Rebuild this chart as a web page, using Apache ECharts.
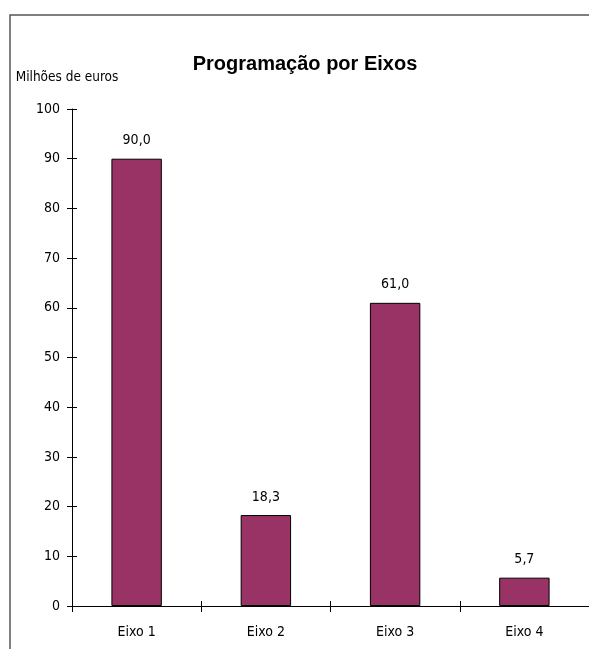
<!DOCTYPE html>
<html>
<head>
<meta charset="utf-8">
<script src="https://cdn.jsdelivr.net/npm/echarts@6/dist/echarts.min.js"></script>
<style>
  html, body { margin: 0; padding: 0; background: #fff; }
  #chart { width: 589px; height: 649px; }
</style>
</head>
<body>
<div id="chart"></div>
<script>
  var categories = ['Eixo 1', 'Eixo 2', 'Eixo 3', 'Eixo 4']
  var values = [90.0, 18.3, 61.0, 5.7]
  var yTicks = [0, 10, 20, 30, 40, 50, 60, 70, 80, 90, 100]

  var font = '"DejaVu Sans Condensed", "Liberation Sans", sans-serif'
  var titleFont = '"Liberation Sans", Arial, sans-serif'
  var chart = echarts.init(document.getElementById('chart'))

  var option = {
    animation: false,
    title: {
      text: 'Programação por Eixos',
      left: 300,
      top: 49,
      textAlign: 'center',
      textStyle: { fontFamily: titleFont, fontSize: 20, fontWeight: 'bold', color: '#000' }
    },
    graphic: [{
      type: 'polyline',
      shape: { points: [[10, 649], [10, 15], [589, 15]] },
      style: { stroke: '#555', lineWidth: 1.5, fill: null }
    }],
    grid: { left: 72, right: -1, top: 109, bottom: 43 },
    xAxis: [{
      type: 'category',
      data: categories,
      axisLine: { lineStyle: { color: '#000' } },
      axisTick: { show: true, interval: 0, length: 6, lineStyle: { color: '#000' } },
      axisLabel: { color: '#000', fontFamily: font, fontSize: 14, margin: 19 }
    }, {
      type: 'category',
      data: categories,
      position: 'bottom',
      offset: 0,
      axisLine: { show: false },
      axisTick: { show: true, interval: 0, inside: true, length: 5, lineStyle: { color: '#000' } },
      axisLabel: { show: false }
    }],
    yAxis: [{
      type: 'value',
      min: yTicks[0],
      max: yTicks[yTicks.length - 1],
      interval: 10,
      name: 'Milhões de euros',
      nameLocation: 'end',
      nameGap: 25,
      nameTextStyle: { color: '#000', fontFamily: font, fontSize: 13.5, padding: [0, 10, 0, 0] },
      splitLine: { show: false },
      axisLine: { show: true, lineStyle: { color: '#000' } },
      axisTick: { show: true, length: 5, lineStyle: { color: '#000' } },
      axisLabel: { color: '#000', fontFamily: font, fontSize: 14, margin: 12 }
    }, {
      type: 'value',
      min: yTicks[0],
      max: yTicks[yTicks.length - 1],
      interval: 10,
      position: 'left',
      offset: 0,
      splitLine: { show: false },
      axisLine: { show: false },
      axisTick: { show: true, inside: true, length: 5, lineStyle: { color: '#000' } },
      axisLabel: { show: false }
    }],
    series: [{
      type: 'bar',
      data: values,
      barWidth: '39%',
      itemStyle: { color: '#993366', borderColor: '#000', borderWidth: 1 },
      label: {
        show: true,
        position: 'top',
        distance: 11,
        color: '#000',
        fontFamily: font,
        fontSize: 14,
        formatter: function (p) { return p.value.toFixed(1).replace('.', ',') }
      }
    }]
  }

  chart.setOption(option)
</script>
</body>
</html>
